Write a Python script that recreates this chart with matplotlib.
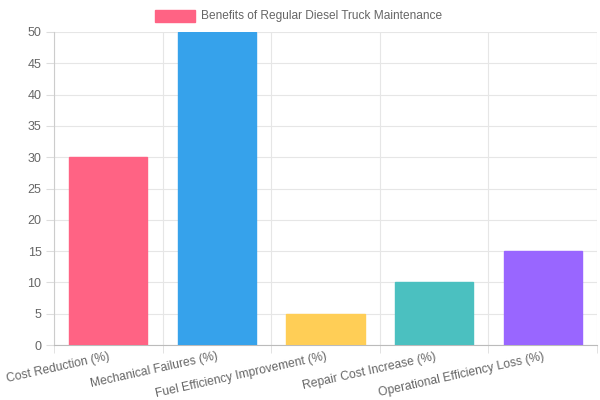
import matplotlib
matplotlib.use("Agg")
import matplotlib.pyplot as plt
from matplotlib.patches import Rectangle

categories = ["Cost Reduction (%)", "Mechanical Failures (%)",
              "Fuel Efficiency Improvement (%)", "Repair Cost Increase (%)",
              "Operational Efficiency Loss (%)"]
values = [30, 50, 5, 10, 15]
colors = ["#FF6384", "#36A2EB", "#FFCE56", "#4BC0C0", "#9966FF"]
legend_label = "Benefits of Regular Diesel Truck Maintenance"

plt.rcParams['font.family'] = ['Liberation Sans', 'DejaVu Sans']

fig = plt.figure(figsize=(6, 4), dpi=100)
ax = fig.add_axes([54 / 600, 55 / 400, 543 / 600, 313 / 400])

x = range(len(categories))
ax.bar(x, values, width=0.72, color=colors, edgecolor=colors, linewidth=1, zorder=3)

ax.set_xlim(-0.5, len(categories) - 0.5)
ax.set_ylim(0, 50)
ax.set_yticks(range(0, 51, 5))

# grid lines sit on category boundaries, like chart.js offset grid
ax.set_xticks([i - 0.5 for i in range(len(categories) + 1)], minor=True)
ax.set_xticks(list(x))
ax.set_xticklabels(categories, rotation=12.5, ha="right", rotation_mode="anchor")
ax.tick_params(axis="x", which="major", length=0, pad=4, labelsize=8.7, colors="#666666")
ax.tick_params(axis="x", which="minor", length=6, color="#dddddd")
ax.tick_params(axis="y", length=6, color="#dddddd", labelsize=9, labelcolor="#666666", pad=3)
ax.grid(True, which="minor", axis="x", color="#e6e6e6", linewidth=0.8, zorder=0)
ax.grid(True, which="major", axis="y", color="#e6e6e6", linewidth=0.8, zorder=0)

for side in ["top", "right"]:
    ax.spines[side].set_visible(False)
ax.spines["left"].set_color("#cccccc")
ax.spines["bottom"].set_color("#bbbbbb")

# legend drawn in figure pixels
fig.patches.append(Rectangle((155 / 600, 1 - 22 / 400), 40 / 600, 12 / 400,
                             transform=fig.transFigure, facecolor=colors[0],
                             edgecolor=colors[0], linewidth=1))
fig.text(201 / 600, 1 - 16 / 400, legend_label, fontsize=8.6, color="#666666",
         va="center", ha="left")

fig.savefig("out.png", dpi=100)
